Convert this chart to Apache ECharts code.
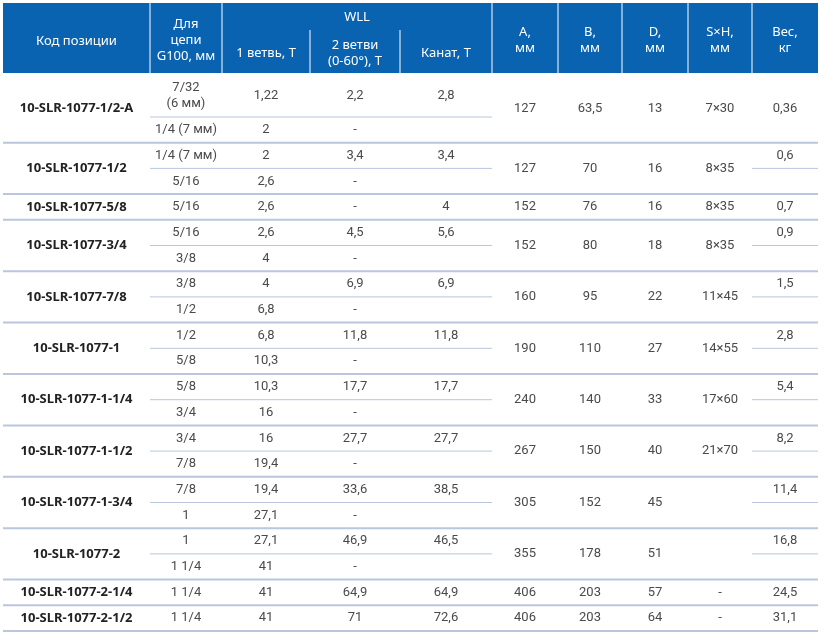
<!DOCTYPE html>
<html><head><meta charset="utf-8">
<script src="https://cdn.jsdelivr.net/npm/echarts@6/dist/echarts.min.js"></script>
<style>html,body{margin:0;padding:0;background:#fff}</style>
</head><body>
<div id="main" style="width:824px;height:635px"></div>
<script>
var codes = ['10-SLR-1077-1/2-A','10-SLR-1077-1/2','10-SLR-1077-5/8','10-SLR-1077-3/4','10-SLR-1077-7/8','10-SLR-1077-1','10-SLR-1077-1-1/4','10-SLR-1077-1-1/2','10-SLR-1077-1-3/4','10-SLR-1077-2','10-SLR-1077-2-1/4','10-SLR-1077-2-1/2'];
var chain = [['7/32\n(6 мм)','1/4 (7 мм)'],['1/4 (7 мм)','5/16'],['5/16'],['5/16','3/8'],['3/8','1/2'],['1/2','5/8'],['5/8','3/4'],['3/4','7/8'],['7/8','1'],['1','1 1/4'],['1 1/4'],['1 1/4']];
var leg1 = [['1,22','2'],['2','2,6'],['2,6'],['2,6','4'],['4','6,8'],['6,8','10,3'],['10,3','16'],['16','19,4'],['19,4','27,1'],['27,1','41'],['41'],['41']];
var leg2 = ['2,2','3,4','-','4,5','6,9','11,8','17,7','27,7','33,6','46,9','64,9','71'];
var rope = ['2,8','3,4','4','5,6','6,9','11,8','17,7','27,7','38,5','46,5','64,9','72,6'];
var colA = ['127','127','152','152','160','190','240','267','305','355','406','406'];
var colB = ['63,5','70','76','80','95','110','140','150','152','178','203','203'];
var colD = ['13','16','16','18','22','27','33','40','45','51','57','64'];
var colSH = ['7×30','8×35','8×35','8×35','11×45','14×55','17×60','21×70','','','-','-'];
var weight = ['0,36','0,6','0,7','0,9','1,5','2,8','5,4','8,2','11,4','16,8','24,5','31,1'];

var cols = [3,150,222,310,400,492,558,622,688,752,818];
var headTop = 3, headBot = 73, rowH = 25.7, firstRowH = 43;
var blue = '#0a63b0', lineC = '#b9c6de', txt = '#4a4a4a';
var els = [];
function cx(i){ return (cols[i]+cols[i+1])/2; }
function t(x,y,s,o){ o=o||{}; els.push({type:'text',x:x,y:y,style:{text:s,fill:o.fill||txt,font:o.font||'13px Roboto',textAlign:'center',textVerticalAlign:'middle',lineHeight:o.lh||16}}); }
function ln(x1,y1,x2,y2,c,w){ els.push({type:'line',shape:{x1:x1,y1:y1,x2:x2,y2:y2},style:{stroke:c,lineWidth:w}}); }

// header
els.push({type:'rect',shape:{x:cols[0],y:headTop,width:cols[10]-cols[0],height:headBot-headTop},style:{fill:blue}});
var hf = '13px "Noto Sans"';
t(cx(0),41,'Код позиции',{fill:'#fff',font:hf});
t(cx(1),40,'Для\nцепи\nG100, мм',{fill:'#fff',font:hf,lh:16});
t((cols[2]+cols[5])/2,17,'WLL',{fill:'#fff',font:hf});
t(cx(2),53,'1 ветвь, Т',{fill:'#fff',font:hf});
t(cx(3),53,'2 ветви\n(0-60°), Т',{fill:'#fff',font:hf});
t(cx(4),53,'Канат, Т',{fill:'#fff',font:hf});
var hh = ['A,\nмм','B,\nмм','D,\nмм','S×H,\nмм','Вес,\nкг'];
hh.forEach(function(s,k){ t(cx(5+k),40,s,{fill:'#fff',font:hf}); });
for (var i=1;i<10;i++){ ln(cols[i],(i>=3&&i<=4)?30:headTop,cols[i],headBot,'#ffffff',1); }

// body
var y = headBot+1;
codes.forEach(function(code,g){
  var n = chain[g].length, top = y, subs = [];
  for (var r=0;r<n;r++){ var h = (g===0&&r===0)?firstRowH:rowH; subs.push([y,y+h]); y+=h; }
  var mid = (top+y)/2;
  t(cx(0),mid,code,{font:'bold 13px "Noto Sans"',fill:'#222'});
  subs.forEach(function(s,r){
    var m=(s[0]+s[1])/2;
    t(cx(1),m,chain[g][r]); t(cx(2),m,leg1[g][r]);
    if(r===0){ t(cx(3),m,leg2[g]); t(cx(4),m,rope[g]); }
    else { t(cx(3),m,'-'); }
    if(r<n-1) ln(cols[1],s[1],cols[5],s[1],lineC,1);
  });
  t(cx(5),mid,colA[g]); t(cx(6),mid,colB[g]); t(cx(7),mid,colD[g]); t(cx(8),mid,colSH[g]);
  if(n>1 && g>0){ var s0=subs[0]; t(cx(9),(s0[0]+s0[1])/2,weight[g]); ln(cols[9],s0[1],cols[10],s0[1],lineC,1); }
  else t(cx(9),mid,weight[g]);
  ln(cols[0],y,cols[10],y,lineC,2);
});

var chart = echarts.init(document.getElementById('main'));
chart.setOption({animation:false,graphic:{elements:els}});
</script>
</body></html>
